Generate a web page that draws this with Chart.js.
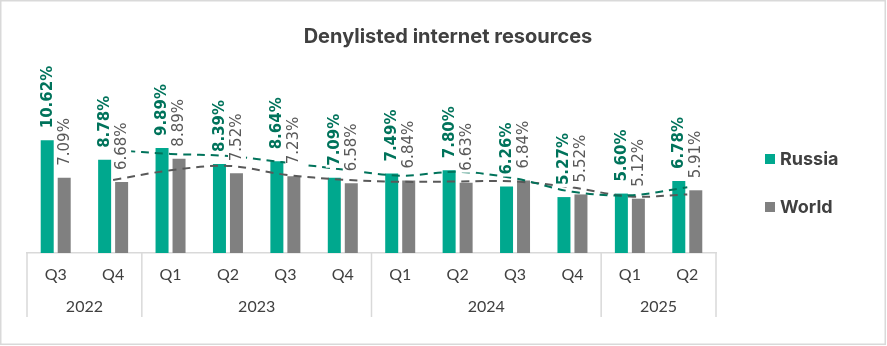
<!doctype html>
<html lang="en">
<head>
    <title>Denylisted internet resources</title>
    <script src="https://cdn.jsdelivr.net/npm/chart.js@4.4.1/dist/chart.umd.min.js"></script>
    <style>
        body { margin: 0; background: #fff; }
        canvas { display: block; }
    </style>
</head>
<body>
<canvas id="chart" width="887" height="346"></canvas>

<script>
    const quarters = ['Q3', 'Q4', 'Q1', 'Q2', 'Q3', 'Q4', 'Q1', 'Q2', 'Q3', 'Q4', 'Q1', 'Q2'];
    const years = ['2022', '2022', '2023', '2023', '2023', '2023', '2024', '2024', '2024', '2024', '2025', '2025'];

    const russia = [10.62, 8.78, 9.89, 8.39, 8.64, 7.09, 7.49, 7.80, 6.26, 5.27, 5.60, 6.78];
    const world = [7.09, 6.68, 8.89, 7.52, 7.23, 6.58, 6.84, 6.63, 6.84, 5.52, 5.12, 5.91];

    // 2-period moving average trend lines
    const russiaTrend = [null, 9.70, 9.34, 9.14, 8.52, 7.87, 7.29, 7.65, 7.03, 5.77, 5.44, 6.19];
    const worldTrend = [null, 6.89, 7.79, 8.21, 7.38, 6.91, 6.71, 6.74, 6.74, 6.18, 5.32, 5.52];

    const GREEN = '#00a88e';
    const GREEN_DARK = '#00735b';
    const GREY = '#808080';
    const GREY_DARK = '#595959';
    const TEXT = '#404040';
    const RULE = '#d9d9d9';

    const decorations = {
        id: 'decorations',
        beforeDraw(chart) {
            const ctx = chart.ctx;
            ctx.save();
            ctx.fillStyle = '#fff';
            ctx.fillRect(0, 0, chart.width, chart.height);
            ctx.strokeStyle = RULE;
            ctx.lineWidth = 1.5;
            ctx.strokeRect(0.75, 0.75, 884.5, 343.5);
            ctx.restore();
        },
        afterDatasetsDraw(chart) {
            const ctx = chart.ctx;
            const sets = [
                {meta: chart.getDatasetMeta(0), values: russia, color: GREEN_DARK, weight: 'bold'},
                {meta: chart.getDatasetMeta(1), values: world, color: GREY_DARK, weight: 'normal'},
            ];
            ctx.save();
            sets.forEach(s => {
                ctx.font = s.weight + ' 15px "DejaVu Sans"';
                s.meta.data.forEach((bar, i) => {
                    const text = s.values[i].toFixed(2) + '%';
                    const w = ctx.measureText(text).width;
                    ctx.save();
                    ctx.translate(bar.x + 0.5, bar.y - 12);
                    ctx.rotate(-Math.PI / 2);
                    ctx.fillStyle = '#fff';
                    ctx.fillRect(-2, -9, w + 4, 18);
                    ctx.fillStyle = s.color;
                    ctx.textAlign = 'left';
                    ctx.textBaseline = 'middle';
                    ctx.fillText(text, 0, 0);
                    ctx.restore();
                });
            });
            ctx.restore();
        },
        afterDraw(chart) {
            const ctx = chart.ctx;
            const x = chart.scales.x;
            const area = chart.chartArea;
            const step = (area.right - area.left) / quarters.length;

            // year groups under the quarter labels
            const groups = [];
            years.forEach((y, i) => {
                const last = groups[groups.length - 1];
                if (last && last.label === y) last.to = i;
                else groups.push({label: y, from: i, to: i});
            });

            ctx.save();
            ctx.strokeStyle = RULE;
            ctx.lineWidth = 1.5;
            ctx.fillStyle = TEXT;
            ctx.font = '16px Lato';
            ctx.textAlign = 'center';
            ctx.textBaseline = 'middle';
            groups.forEach((g, k) => {
                const left = x.getPixelForValue(g.from) - step / 2;
                const right = x.getPixelForValue(g.to) + step / 2;
                ctx.beginPath();
                ctx.moveTo(left, area.bottom);
                ctx.lineTo(left, 317);
                if (k === groups.length - 1) {
                    ctx.moveTo(right, area.bottom);
                    ctx.lineTo(right, 317);
                }
                ctx.stroke();
                ctx.fillText(g.label, (left + right) / 2, 307);
            });

            // title
            ctx.font = 'bold 20px Inter';
            ctx.fillText('Denylisted internet resources', 448, 37);

            // legend
            ctx.font = 'bold 18px Inter';
            ctx.textAlign = 'left';
            [['Russia', GREEN, 159], ['World', GREY, 207]].forEach(([name, color, cy]) => {
                ctx.fillStyle = color;
                ctx.fillRect(765, cy - 5, 10, 10);
                ctx.fillStyle = TEXT;
                ctx.fillText(name, 780, cy + 1);
            });
            ctx.restore();
        },
    };

    new Chart(document.getElementById('chart'), {
        type: 'bar',
        data: {
            labels: quarters,
            datasets: [
                {
                    label: 'Russia',
                    data: russia,
                    backgroundColor: GREEN,
                    categoryPercentage: 0.592,
                    barPercentage: 0.765,
                    order: 2,
                },
                {
                    label: 'World',
                    data: world,
                    backgroundColor: GREY,
                    categoryPercentage: 0.592,
                    barPercentage: 0.765,
                    order: 2,
                },
                {
                    type: 'line',
                    label: 'Russia trend',
                    data: russiaTrend,
                    borderColor: GREEN_DARK,
                    borderWidth: 2,
                    borderDash: [8, 6],
                    pointRadius: 0,
                    tension: 0.35,
                    fill: false,
                    order: 1,
                },
                {
                    type: 'line',
                    label: 'World trend',
                    data: worldTrend,
                    borderColor: GREY_DARK,
                    borderWidth: 2,
                    borderDash: [8, 6],
                    pointRadius: 0,
                    tension: 0.35,
                    fill: false,
                    order: 1,
                },
            ],
        },
        options: {
            responsive: false,
            animation: false,
            layout: {
                padding: {top: 62, left: 27, right: 171, bottom: 0},
            },
            plugins: {
                legend: {display: false},
                title: {display: false},
                tooltip: {enabled: false},
            },
            scales: {
                x: {
                    grid: {display: false, drawTicks: false},
                    border: {color: RULE, width: 1.5},
                    ticks: {
                        color: TEXT,
                        font: {family: 'Lato', size: 16},
                        padding: 12,
                        maxRotation: 0,
                        autoSkip: false,
                    },
                    afterFit(scale) {
                        scale.height = 93;
                    },
                },
                y: {
                    display: false,
                    min: 0,
                    max: 18,
                },
            },
        },
        plugins: [decorations],
    });
</script>
</body>
</html>
